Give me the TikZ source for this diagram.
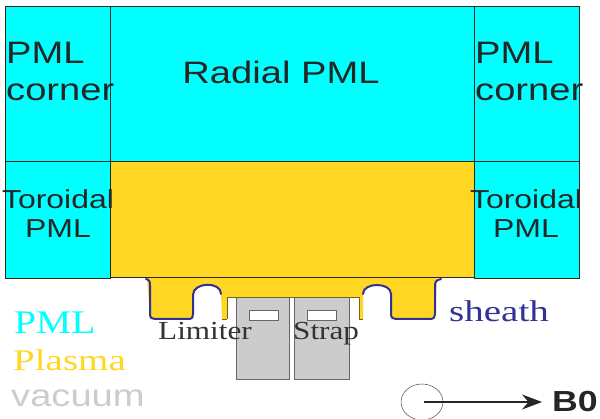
\documentclass[tikz,border=0pt]{standalone}
\usepackage{fontspec}
\setmainfont[FakeStretch=1.23]{Liberation Sans}
\newfontfamily\serifA[FakeStretch=1.2]{Liberation Serif}
\newfontfamily\serifB[FakeStretch=1.3]{Liberation Serif}
\usetikzlibrary{arrows.meta}
\definecolor{pml}{RGB}{0,255,255}
\definecolor{plasma}{RGB}{255,214,33}
\definecolor{edge}{RGB}{40,40,30}
\definecolor{sheathc}{RGB}{50,50,150}
\definecolor{vac}{RGB}{204,204,204}
\tikzset{
  pmlbox/.style={fill=pml,draw=edge,line width=.7pt},
  plasmabox/.style={fill=plasma,draw=edge,line width=.7pt},
  strapbox/.style={fill=vac,draw=black!60,line width=.9pt},
  slot/.style={fill=white,draw=black!60,line width=.9pt},
  sheathline/.style={draw=sheathc,line width=2pt,line cap=round,line join=round},
  biglabel/.style={font=\fontsize{31}{31}\selectfont,text=black!85,inner sep=0,align=left,anchor=west},
  midlabel/.style={font=\fontsize{26}{29}\selectfont,text=black!85,inner sep=0,align=center},
  serlabel/.style={font=\serifA\fontsize{26}{26}\selectfont,inner sep=0,anchor=base west},
}
\begin{document}
\begin{tikzpicture}[x=1pt,y=-1pt]
\useasboundingbox (0,0) rectangle (600,419);
\fill[white] (0,0) rectangle (600,419);
% straps
\draw[strapbox] (236,297) rectangle (289,379);
\draw[strapbox] (294,297) rectangle (349,379);
\draw[slot] (249,310) rectangle (278,320);
\draw[slot] (307,310) rectangle (336,320);
% PML
\draw[pmlbox] (5,6) rectangle (110,161);
\draw[pmlbox] (110,6) rectangle (474,161);
\draw[pmlbox] (474,6) rectangle (579,161);
\draw[pmlbox] (5,161) rectangle (110,278);
\draw[pmlbox] (474,161) rectangle (579,278);
% plasma
\fill[plasma] (147,277) -- (150,319) -- (193,319) -- (193,292)
  .. controls (193,283) and (221,283) .. (221,294) -- (222,319) -- (227,319) -- (227,297)
  -- (359,297) -- (359,319) -- (363,319) -- (363,294)
  .. controls (363,282) and (391,282) .. (391,294) -- (391,319) -- (435,319) -- (437,277) -- cycle;
\draw[plasmabox] (110,161) rectangle (474,277);
\draw[draw=olive!70!black,line width=.7pt] (227,319) -- (227,297) -- (359,297) -- (359,319);
\draw[draw=olive!70!black,line width=.7pt] (222,319) -- (227,319) (359,319) -- (363,319);
% sheath
\draw[sheathline] (146,279) .. controls (150,280) and (150,282) .. (150,286) -- (150,314)
  .. controls (150,318) and (152,319) .. (155,319) -- (190,319)
  .. controls (192,319) and (193,317) .. (193,314) -- (193,295)
  .. controls (193,282) and (221,281) .. (221,294);
\draw[sheathline] (363,294) .. controls (363,282) and (391,282) .. (391,294) -- (391,314)
  .. controls (391,318) and (393,319) .. (396,319) -- (430,319)
  .. controls (434,319) and (435,317) .. (435,314) -- (435,286)
  .. controls (435,282) and (436,280) .. (441,279);
% labels
\node[biglabel,anchor=center] (radial) at (281,72) {Radial PML};
\node[biglabel] (cornerL) at (6,71) {PML\\[6pt]corner};
\node[biglabel] (cornerR) at (475,71) {PML\\[6pt]corner};
\node[midlabel] (torL) at (58,214) {Toroidal\\PML};
\node[midlabel] (torR) at (526,214) {Toroidal\\PML};
\node[serlabel,text=black!80] (lim) at (158,340) {Limiter};
\node[serlabel,text=black!80] (str) at (293,340) {Strap};
\node[serlabel,text=sheathc,font=\serifB\fontsize{30}{30}\selectfont] (sh) at (449,322) {sheath};
\node[serlabel,text=pml,font=\serifA\fontsize{33}{33}\selectfont] (lp) at (14,334) {PML};
\node[serlabel,text=plasma,font=\serifB\fontsize{30}{30}\selectfont] (lq) at (13,371) {Plasma};
\node[inner sep=0,anchor=base west,text=vac,font=\fontsize{31}{31}\selectfont] (lv) at (11,407) {vacuum};
% B0
\draw[black!70,line width=.5pt] (422,402) ellipse (21 and 18);
\coordinate (tail) at (424,402);
\node[inner sep=0,anchor=base west,font=\bfseries\fontsize{29}{29}\selectfont,text=black!85] (b0) at (552,412) {B0};
\draw[-{Stealth[length=20pt,width=15pt]},line width=1.2pt,black!85,shorten >=10pt] (tail) -- (b0.west |- tail);
\end{tikzpicture}
\end{document}
